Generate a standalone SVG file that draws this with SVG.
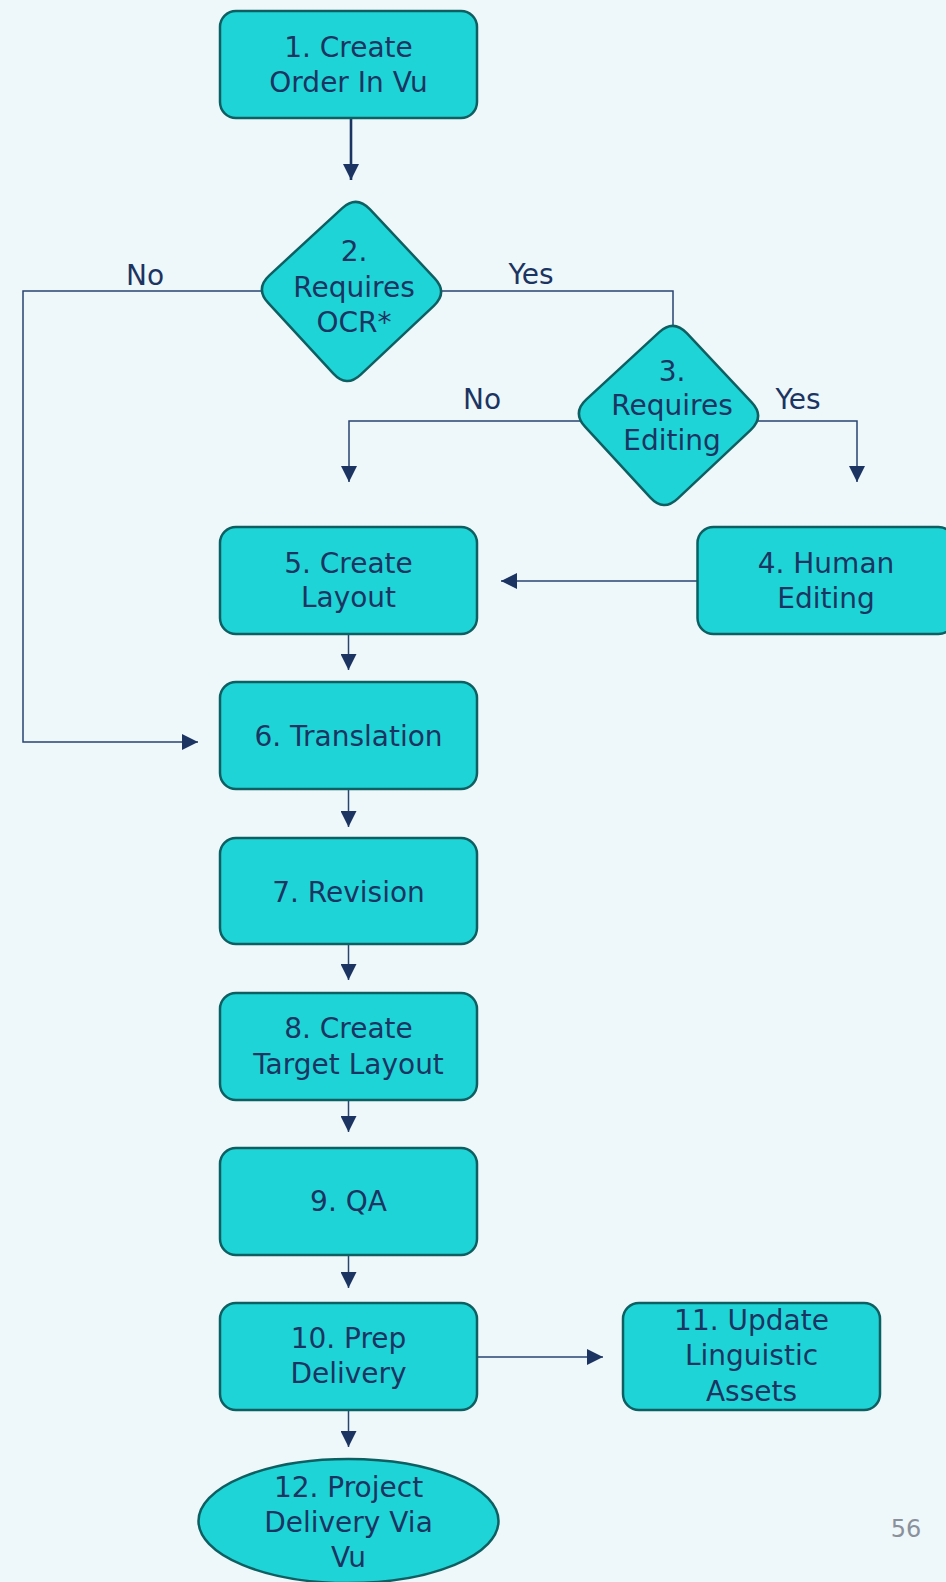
<svg xmlns="http://www.w3.org/2000/svg" width="946" height="1582" viewBox="0 0 946 1582">
<style>
.bg{fill:#eef7fa}
.node{fill:#1fd4d6;stroke:#0e5f62;stroke-width:2.5}
.t{font-family:"DejaVu Sans","Liberation Sans",sans-serif;font-size:28px;fill:#1c3461;text-anchor:middle}
.lbl{font-family:"DejaVu Sans","Liberation Sans",sans-serif;font-size:28px;fill:#1c3461;text-anchor:middle}
.c{fill:none;stroke:#2a4470;stroke-width:1.5}
.cthick{fill:none;stroke:#1c3461;stroke-width:2.6}
.pg{font-family:"DejaVu Sans","Liberation Sans",sans-serif;font-size:24px;fill:#8a919b;text-anchor:middle}
</style>
<defs>
<marker id="ah" markerUnits="userSpaceOnUse" markerWidth="16" markerHeight="16" refX="16" refY="8" orient="auto">
<path d="M0,0 L16,8 L0,16 Z" fill="#1c3461"/>
</marker>
<path id="dia" d="M342.3,208.1 Q356.5,195 369.8,209.2 L434.7,278.3 Q448,292.5 433.8,305.9 L360.7,374.6 Q346.5,388 333.4,373.7 L268.2,302.9 Q255,288.5 269.4,275.3 Z"/>
</defs>
<rect class="bg" x="0" y="0" width="946" height="1582"/>

<g id="connectors">
<path class="cthick" d="M351,119 L351,180" marker-end="url(#ah)"/>
<path class="c" d="M262,291 L23,291 L23,742 L198,742" marker-end="url(#ah)"/>
<path class="c" d="M441,291 L673,291 L673,327"/>
<path class="c" d="M600,421 L349,421 L349,482" marker-end="url(#ah)"/>
<path class="c" d="M740,421 L857,421 L857,482" marker-end="url(#ah)"/>
<path class="c" d="M697,581 L501,581" marker-end="url(#ah)"/>
<path class="c" d="M348.5,635 L348.5,670" marker-end="url(#ah)"/>
<path class="c" d="M348.5,789 L348.5,827" marker-end="url(#ah)"/>
<path class="c" d="M348.5,944 L348.5,980" marker-end="url(#ah)"/>
<path class="c" d="M348.5,1100 L348.5,1132" marker-end="url(#ah)"/>
<path class="c" d="M348.5,1255 L348.5,1288" marker-end="url(#ah)"/>
<path class="c" d="M348.5,1410 L348.5,1447" marker-end="url(#ah)"/>
<path class="c" d="M477,1357 L603,1357" marker-end="url(#ah)"/>
<text class="lbl" x="145" y="285">No</text>
<text class="lbl" x="531" y="284">Yes</text>
<text class="lbl" x="482" y="409">No</text>
<text class="lbl" x="798" y="409">Yes</text>
</g>

<g id="n1">
<rect class="node" x="220" y="11" width="257" height="107" rx="16"/>
<text class="t" x="348.5" y="57">1. Create</text>
<text class="t" x="348.5" y="92">Order In Vu</text>
</g>
<g id="n2">
<use href="#dia" class="node"/>
<text class="t" x="354" y="261">2.</text>
<text class="t" x="354" y="297">Requires</text>
<text class="t" x="354" y="332">OCR*</text>
</g>
<g id="n3">
<use href="#dia" class="node" transform="translate(317,124)"/>
<text class="t" x="672" y="381">3.</text>
<text class="t" x="672" y="415">Requires</text>
<text class="t" x="672" y="450">Editing</text>
</g>
<g id="n4">
<rect class="node" x="697.5" y="527" width="257" height="107" rx="16"/>
<text class="t" x="826" y="573">4. Human</text>
<text class="t" x="826" y="608">Editing</text>
</g>
<g id="n5">
<rect class="node" x="220" y="527" width="257" height="107" rx="16"/>
<text class="t" x="348.5" y="573">5. Create</text>
<text class="t" x="348.5" y="607">Layout</text>
</g>
<g id="n6">
<rect class="node" x="220" y="682" width="257" height="107" rx="16"/>
<text class="t" x="348.5" y="746">6. Translation</text>
</g>
<g id="n7">
<rect class="node" x="220" y="838" width="257" height="106" rx="16"/>
<text class="t" x="348.5" y="902">7. Revision</text>
</g>
<g id="n8">
<rect class="node" x="220" y="993" width="257" height="107" rx="16"/>
<text class="t" x="348.5" y="1038">8. Create</text>
<text class="t" x="348.5" y="1074">Target Layout</text>
</g>
<g id="n9">
<rect class="node" x="220" y="1148" width="257" height="107" rx="16"/>
<text class="t" x="348.5" y="1211">9. QA</text>
</g>
<g id="n10">
<rect class="node" x="220" y="1303" width="257" height="107" rx="16"/>
<text class="t" x="348.5" y="1348">10. Prep</text>
<text class="t" x="348.5" y="1383">Delivery</text>
</g>
<g id="n11">
<rect class="node" x="623" y="1303" width="257" height="107" rx="16"/>
<text class="t" x="751.5" y="1330">11. Update</text>
<text class="t" x="751.5" y="1365">Linguistic</text>
<text class="t" x="751.5" y="1401">Assets</text>
</g>
<g id="n12">
<ellipse class="node" cx="348.5" cy="1521" rx="150" ry="62"/>
<text class="t" x="348.5" y="1497">12. Project</text>
<text class="t" x="348.5" y="1532">Delivery Via</text>
<text class="t" x="348.5" y="1567">Vu</text>
</g>
<text class="pg" x="906" y="1537">56</text>
</svg>
